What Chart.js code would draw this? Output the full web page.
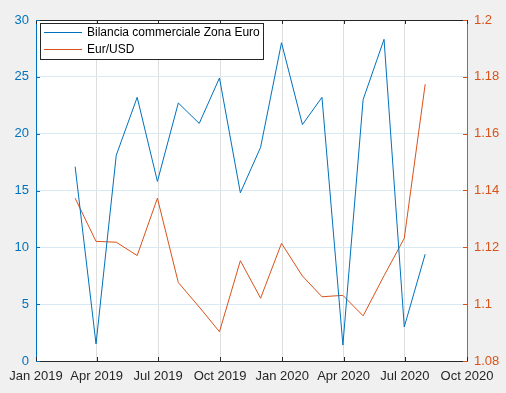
<!DOCTYPE html>
<html>
<head>
<meta charset="utf-8">
<script src="https://cdn.jsdelivr.net/npm/chart.js@4"></script>
<style>
  html, body { margin: 0; padding: 0; background: #f0f0f0; }
  canvas { display: block; }
</style>
</head>
<body>
<canvas id="chart" width="506" height="393"></canvas>
<script>
// end of month dates
const dates = [
    "2019-02-28", "2019-03-31", "2019-04-30", "2019-05-31", "2019-06-30", "2019-07-31",
    "2019-08-31", "2019-09-30", "2019-10-31", "2019-11-30", "2019-12-31", "2020-01-31",
    "2020-02-29", "2020-03-31", "2020-04-30", "2020-05-31", "2020-06-30", "2020-07-31"
];
const bilancia = [17.1, 1.5, 18.1, 23.2, 15.8, 22.7, 20.9, 24.9, 14.8, 18.8, 28.0, 20.8, 23.2, 1.4, 23.0, 28.3, 3.0, 9.4];
const eurUsd = [1.1373, 1.1221, 1.1218, 1.1171, 1.1373, 1.1076, 1.0990, 1.0903, 1.1153, 1.1021, 1.1214, 1.1099, 1.1026, 1.1031, 1.0959, 1.1100, 1.1232, 1.1774];
const xTickDates = ["2019-01-01", "2019-04-01", "2019-07-01", "2019-10-01", "2020-01-01", "2020-04-01", "2020-07-01", "2020-10-01"];
const xTickLabels = ["Jan 2019", "Apr 2019", "Jul 2019", "Oct 2019", "Jan 2020", "Apr 2020", "Jul 2020", "Oct 2020"];
const seriesNames = ["Bilancia commerciale Zona Euro", "Eur/USD"];

const blue = "#0072BD";
const orange = "#D95319";
const dark = "#262626";

function dayNum(s) {
    let p = s.split("-");
    return (Date.UTC(+p[0], +p[1] - 1, +p[2]) - Date.UTC(2019, 0, 1)) / 86400000;
}

const xTicks = xTickDates.map(dayNum);
const xs = dates.map(dayNum);

// white plot area, top border, inward ticks, boxed legend
const matlabLook = {
    id: "matlabLook",
    beforeDraw(chart) {
        const ctx = chart.ctx;
        const a = chart.chartArea;
        ctx.save();
        ctx.fillStyle = "#ffffff";
        ctx.fillRect(a.left, a.top, a.right - a.left, a.bottom - a.top);
        ctx.restore();
    },
    afterDatasetsDraw(chart) {
        const ctx = chart.ctx;
        const a = chart.chartArea;
        const sx = chart.scales.x;
        const yl = chart.scales.y;
        const yr = chart.scales.y1;
        const tl = 4;
        ctx.save();
        ctx.lineWidth = 1;
        ctx.strokeStyle = dark;
        ctx.beginPath();
        ctx.moveTo(a.left, a.top + 0.5);
        ctx.lineTo(a.right, a.top + 0.5);
        sx.ticks.forEach((t) => {
            let px = Math.round(sx.getPixelForValue(t.value)) + 0.5;
            ctx.moveTo(px, a.bottom);
            ctx.lineTo(px, a.bottom - tl);
            ctx.moveTo(px, a.top);
            ctx.lineTo(px, a.top + tl);
        });
        ctx.stroke();
        ctx.strokeStyle = blue;
        ctx.beginPath();
        yl.ticks.forEach((t) => {
            let py = Math.round(yl.getPixelForValue(t.value)) + 0.5;
            ctx.moveTo(a.left, py);
            ctx.lineTo(a.left + tl, py);
        });
        ctx.stroke();
        ctx.strokeStyle = orange;
        ctx.beginPath();
        yr.ticks.forEach((t) => {
            let py = Math.round(yr.getPixelForValue(t.value)) + 0.5;
            ctx.moveTo(a.right, py);
            ctx.lineTo(a.right - tl, py);
        });
        ctx.stroke();

        // legend
        const lx = a.left + 4, ly = a.top + 3, lw = 223, lh = 36;
        ctx.fillStyle = "#ffffff";
        ctx.fillRect(lx, ly, lw, lh);
        ctx.strokeStyle = dark;
        ctx.strokeRect(lx + 0.5, ly + 0.5, lw, lh);
        ctx.font = "12px 'Liberation Sans', Arial, sans-serif";
        ctx.textBaseline = "middle";
        ctx.fillStyle = "#000000";
        chart.data.datasets.forEach((ds, i) => {
            let yy = ly + 9.5 + i * 17;
            ctx.strokeStyle = ds.borderColor;
            ctx.beginPath();
            ctx.moveTo(lx + 4, yy);
            ctx.lineTo(lx + 42, yy);
            ctx.stroke();
            ctx.fillText(ds.label, lx + 47, yy);
        });
        ctx.restore();
    }
};

const tickFont = { family: "'Liberation Sans', Arial, sans-serif", size: 13 };

new Chart(document.getElementById("chart"), {
    type: "line",
    data: {
        datasets: [
            {
                label: seriesNames[0],
                data: xs.map((x, i) => ({ x: x, y: bilancia[i] })),
                borderColor: blue,
                borderWidth: 1,
                pointRadius: 0,
                tension: 0,
                yAxisID: "y",
            },
            {
                label: seriesNames[1],
                data: xs.map((x, i) => ({ x: x, y: eurUsd[i] })),
                borderColor: orange,
                borderWidth: 1,
                pointRadius: 0,
                tension: 0,
                yAxisID: "y1",
            },
        ],
    },
    options: {
        responsive: false,
        animation: false,
        layout: { padding: { top: 20, left: 0, right: 0, bottom: 0 } },
        plugins: {
            legend: { display: false },
            tooltip: { enabled: false },
        },
        scales: {
            x: {
                type: "linear",
                min: xTicks[0],
                max: xTicks[xTicks.length - 1],
                afterBuildTicks: (scale) => {
                    scale.ticks = xTicks.map((v) => ({ value: v }));
                },
                afterFit: (scale) => {
                    scale.height = 32;
                },
                ticks: {
                    color: dark,
                    font: tickFont,
                    padding: 8,
                    maxRotation: 0,
                    autoSkip: false,
                    callback: (v) => xTickLabels[xTicks.indexOf(v)],
                },
                grid: { color: "#dedede", drawTicks: false },
                border: { color: dark, width: 1 },
            },
            y: {
                position: "left",
                min: 0,
                max: 30,
                afterFit: (scale) => {
                    scale.width = 36;
                },
                ticks: { stepSize: 5, color: blue, font: tickFont, padding: 7 },
                grid: { color: "#d9eaf5", drawTicks: false },
                border: { color: blue, width: 1 },
            },
            y1: {
                position: "right",
                min: 1.08,
                max: 1.2,
                afterFit: (scale) => {
                    scale.width = 39;
                },
                ticks: {
                    stepSize: 0.02,
                    color: orange,
                    font: tickFont,
                    padding: 7,
                    callback: (v) => String(Math.round(v * 100) / 100),
                },
                grid: { drawOnChartArea: false, drawTicks: false },
                border: { color: orange, width: 1 },
            },
        },
    },
    plugins: [matlabLook],
});
</script>
</body>
</html>
